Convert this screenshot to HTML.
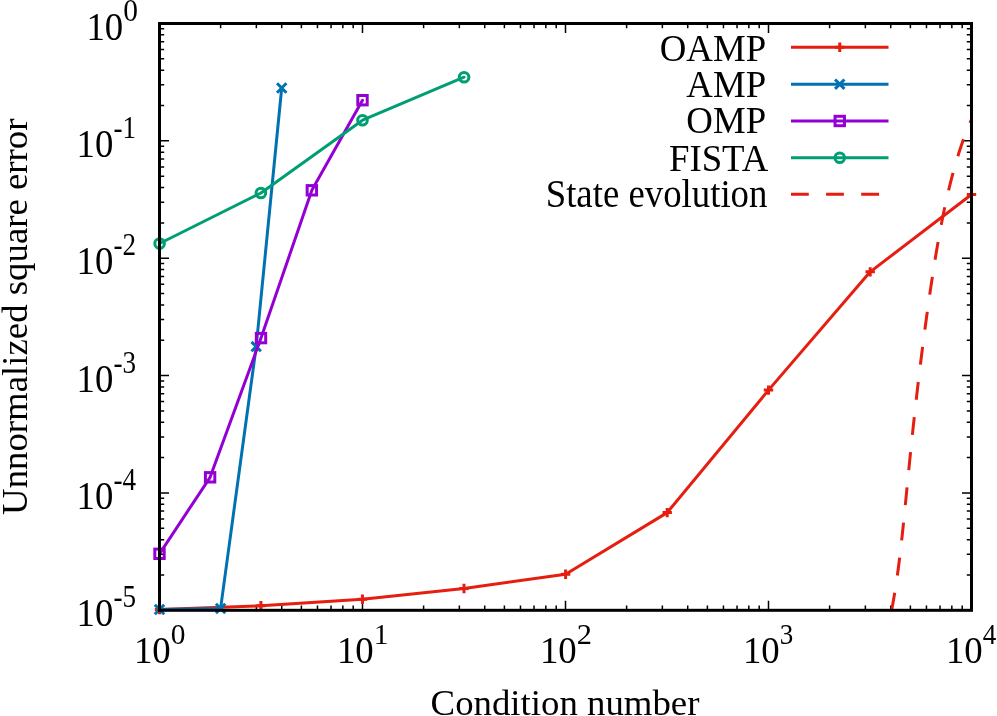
<!DOCTYPE html>
<html><head><meta charset="utf-8"><title>plot</title>
<style>html,body{margin:0;padding:0;background:#fff}svg{display:block;will-change:transform}svg text{opacity:0.9999}</style></head>
<body>
<svg width="997" height="716" viewBox="0 0 997 716">
<rect width="997" height="716" fill="#fff"/>
<path d="M159.50 610.3v-9.5M159.50 23.5v9.5M220.61 610.3v-4.7M220.61 23.5v4.7M256.36 610.3v-4.7M256.36 23.5v4.7M281.72 610.3v-4.7M281.72 23.5v4.7M301.39 610.3v-4.7M301.39 23.5v4.7M317.46 610.3v-4.7M317.46 23.5v4.7M331.05 610.3v-4.7M331.05 23.5v4.7M342.83 610.3v-4.7M342.83 23.5v4.7M353.21 610.3v-4.7M353.21 23.5v4.7M362.50 610.3v-9.5M362.50 23.5v9.5M423.61 610.3v-4.7M423.61 23.5v4.7M459.36 610.3v-4.7M459.36 23.5v4.7M484.72 610.3v-4.7M484.72 23.5v4.7M504.39 610.3v-4.7M504.39 23.5v4.7M520.46 610.3v-4.7M520.46 23.5v4.7M534.05 610.3v-4.7M534.05 23.5v4.7M545.83 610.3v-4.7M545.83 23.5v4.7M556.21 610.3v-4.7M556.21 23.5v4.7M565.50 610.3v-9.5M565.50 23.5v9.5M626.61 610.3v-4.7M626.61 23.5v4.7M662.36 610.3v-4.7M662.36 23.5v4.7M687.72 610.3v-4.7M687.72 23.5v4.7M707.39 610.3v-4.7M707.39 23.5v4.7M723.46 610.3v-4.7M723.46 23.5v4.7M737.05 610.3v-4.7M737.05 23.5v4.7M748.83 610.3v-4.7M748.83 23.5v4.7M759.21 610.3v-4.7M759.21 23.5v4.7M768.50 610.3v-9.5M768.50 23.5v9.5M829.61 610.3v-4.7M829.61 23.5v4.7M865.36 610.3v-4.7M865.36 23.5v4.7M890.72 610.3v-4.7M890.72 23.5v4.7M910.39 610.3v-4.7M910.39 23.5v4.7M926.46 610.3v-4.7M926.46 23.5v4.7M940.05 610.3v-4.7M940.05 23.5v4.7M951.83 610.3v-4.7M951.83 23.5v4.7M962.21 610.3v-4.7M962.21 23.5v4.7M971.50 610.3v-9.5M971.50 23.5v9.5M159.5 610.30h9.5M971.5 610.30h-9.5M159.5 574.97h4.7M971.5 574.97h-4.7M159.5 554.31h4.7M971.5 554.31h-4.7M159.5 539.64h4.7M971.5 539.64h-4.7M159.5 528.27h4.7M971.5 528.27h-4.7M159.5 518.98h4.7M971.5 518.98h-4.7M159.5 511.12h4.7M971.5 511.12h-4.7M159.5 504.31h4.7M971.5 504.31h-4.7M159.5 498.31h4.7M971.5 498.31h-4.7M159.5 492.94h9.5M971.5 492.94h-9.5M159.5 457.61h4.7M971.5 457.61h-4.7M159.5 436.95h4.7M971.5 436.95h-4.7M159.5 422.28h4.7M971.5 422.28h-4.7M159.5 410.91h4.7M971.5 410.91h-4.7M159.5 401.62h4.7M971.5 401.62h-4.7M159.5 393.76h4.7M971.5 393.76h-4.7M159.5 386.95h4.7M971.5 386.95h-4.7M159.5 380.95h4.7M971.5 380.95h-4.7M159.5 375.58h9.5M971.5 375.58h-9.5M159.5 340.25h4.7M971.5 340.25h-4.7M159.5 319.59h4.7M971.5 319.59h-4.7M159.5 304.92h4.7M971.5 304.92h-4.7M159.5 293.55h4.7M971.5 293.55h-4.7M159.5 284.26h4.7M971.5 284.26h-4.7M159.5 276.40h4.7M971.5 276.40h-4.7M159.5 269.59h4.7M971.5 269.59h-4.7M159.5 263.59h4.7M971.5 263.59h-4.7M159.5 258.22h9.5M971.5 258.22h-9.5M159.5 222.89h4.7M971.5 222.89h-4.7M159.5 202.23h4.7M971.5 202.23h-4.7M159.5 187.56h4.7M971.5 187.56h-4.7M159.5 176.19h4.7M971.5 176.19h-4.7M159.5 166.90h4.7M971.5 166.90h-4.7M159.5 159.04h4.7M971.5 159.04h-4.7M159.5 152.23h4.7M971.5 152.23h-4.7M159.5 146.23h4.7M971.5 146.23h-4.7M159.5 140.86h9.5M971.5 140.86h-9.5M159.5 105.53h4.7M971.5 105.53h-4.7M159.5 84.87h4.7M971.5 84.87h-4.7M159.5 70.20h4.7M971.5 70.20h-4.7M159.5 58.83h4.7M971.5 58.83h-4.7M159.5 49.54h4.7M971.5 49.54h-4.7M159.5 41.68h4.7M971.5 41.68h-4.7M159.5 34.87h4.7M971.5 34.87h-4.7M159.5 28.87h4.7M971.5 28.87h-4.7M159.5 23.50h9.5M971.5 23.50h-9.5" stroke="#000" stroke-width="1.5" fill="none"/>
<g font-family="Liberation Serif, serif" font-size="36.8" fill="#000">
<polyline points="159.50,609.50 260.90,605.70 362.46,599.30 464.00,588.50 565.60,574.20 667.20,512.60 768.50,390.10 870.20,271.85 971.50,194.50" stroke="#e51e10" stroke-width="3" fill="none" stroke-linejoin="round" stroke-linecap="round" /><path d="M154.80 609.50h9.4M159.50 604.80v9.4" stroke="#e51e10" stroke-width="3" fill="none"/><path d="M256.20 605.70h9.4M260.90 601.00v9.4" stroke="#e51e10" stroke-width="3" fill="none"/><path d="M357.76 599.30h9.4M362.46 594.60v9.4" stroke="#e51e10" stroke-width="3" fill="none"/><path d="M459.30 588.50h9.4M464.00 583.80v9.4" stroke="#e51e10" stroke-width="3" fill="none"/><path d="M560.90 574.20h9.4M565.60 569.50v9.4" stroke="#e51e10" stroke-width="3" fill="none"/><path d="M662.50 512.60h9.4M667.20 507.90v9.4" stroke="#e51e10" stroke-width="3" fill="none"/><path d="M763.80 390.10h9.4M768.50 385.40v9.4" stroke="#e51e10" stroke-width="3" fill="none"/><path d="M865.50 271.85h9.4M870.20 267.15v9.4" stroke="#e51e10" stroke-width="3" fill="none"/><path d="M966.80 194.50h9.4M971.50 189.80v9.4" stroke="#e51e10" stroke-width="3" fill="none"/>
<text transform="translate(766.10 61.10) scale(1 1.01)" text-anchor="end">OAMP</text><path d="M791.0 47.3H888.5" stroke="#e51e10" stroke-width="3" fill="none"/><path d="M835.05 47.30h9.4M839.75 42.60v9.4" stroke="#e51e10" stroke-width="3" fill="none"/>
<polyline points="159.50,609.50 220.60,608.40 256.20,346.60 281.70,88.00" stroke="#0072b2" stroke-width="3" fill="none" stroke-linejoin="round" stroke-linecap="round" /><path d="M154.80 604.80l9.4 9.4M154.80 614.20l9.4 -9.4" stroke="#0072b2" stroke-width="3" fill="none"/><path d="M215.90 603.70l9.4 9.4M215.90 613.10l9.4 -9.4" stroke="#0072b2" stroke-width="3" fill="none"/><path d="M251.50 341.90l9.4 9.4M251.50 351.30l9.4 -9.4" stroke="#0072b2" stroke-width="3" fill="none"/><path d="M277.00 83.30l9.4 9.4M277.00 92.70l9.4 -9.4" stroke="#0072b2" stroke-width="3" fill="none"/>
<text transform="translate(766.10 96.70) scale(1 1.01)" text-anchor="end">AMP</text><path d="M791.0 84.2H888.5" stroke="#0072b2" stroke-width="3" fill="none"/><path d="M835.05 79.50l9.4 9.4M835.05 88.90l9.4 -9.4" stroke="#0072b2" stroke-width="3" fill="none"/>
<polyline points="159.50,553.80 210.10,477.30 261.00,338.10 311.85,190.30 362.50,100.20" stroke="#9400d3" stroke-width="3" fill="none" stroke-linejoin="round" stroke-linecap="round" /><rect x="154.80" y="549.10" width="9.4" height="9.4" stroke="#9400d3" stroke-width="3" fill="none"/><rect x="205.40" y="472.60" width="9.4" height="9.4" stroke="#9400d3" stroke-width="3" fill="none"/><rect x="256.30" y="333.40" width="9.4" height="9.4" stroke="#9400d3" stroke-width="3" fill="none"/><rect x="307.15" y="185.60" width="9.4" height="9.4" stroke="#9400d3" stroke-width="3" fill="none"/><rect x="357.80" y="95.50" width="9.4" height="9.4" stroke="#9400d3" stroke-width="3" fill="none"/>
<text transform="translate(766.10 133.40) scale(1 1.01)" text-anchor="end">OMP</text><path d="M791.0 121.0H888.5" stroke="#9400d3" stroke-width="3" fill="none"/><rect x="835.05" y="116.30" width="9.4" height="9.4" stroke="#9400d3" stroke-width="3" fill="none"/>
<polyline points="159.60,243.50 260.90,193.00 362.50,120.20 464.05,77.20" stroke="#009e73" stroke-width="3" fill="none" stroke-linejoin="round" stroke-linecap="round" /><circle cx="159.60" cy="243.50" r="4.8" stroke="#009e73" stroke-width="3" fill="none"/><circle cx="260.90" cy="193.00" r="4.8" stroke="#009e73" stroke-width="3" fill="none"/><circle cx="362.50" cy="120.20" r="4.8" stroke="#009e73" stroke-width="3" fill="none"/><circle cx="464.05" cy="77.20" r="4.8" stroke="#009e73" stroke-width="3" fill="none"/>
<text transform="translate(768.20 170.50) scale(1 1.01)" text-anchor="end">FISTA</text><path d="M791.0 157.8H888.5" stroke="#009e73" stroke-width="3" fill="none"/><circle cx="839.75" cy="157.80" r="4.8" stroke="#009e73" stroke-width="3" fill="none"/>
<polyline points="891.59,610.30 892.36,606.30 893.09,602.30 893.80,598.30 894.47,594.30 895.12,590.30 895.75,586.30 896.35,582.30 896.93,578.30 897.50,574.30 898.04,570.30 898.57,566.30 899.08,562.30 899.57,558.30 900.06,554.30 900.53,550.30 900.99,546.30 901.43,542.30 901.87,538.30 902.31,534.30 902.73,530.30 903.15,526.30 903.56,522.30 903.97,518.30 904.38,514.30 904.78,510.30 905.18,506.30 905.57,502.30 905.97,498.30 906.36,494.30 906.76,490.30 907.15,486.30 907.54,482.30 907.94,478.30 908.33,474.30 908.73,470.30 909.13,466.30 909.53,462.30 909.93,458.30 910.34,454.30 910.75,450.30 911.16,446.30 911.58,442.30 911.99,438.30 912.42,434.30 912.84,430.30 913.27,426.30 913.70,422.30 914.14,418.30 914.58,414.30 915.03,410.30 915.47,406.30 915.93,402.30 916.38,398.30 916.85,394.30 917.31,390.30 917.78,386.30 918.25,382.30 918.73,378.30 919.21,374.30 919.70,370.30 920.19,366.30 920.68,362.30 921.18,358.30 921.68,354.30 922.19,350.30 922.70,346.30 923.21,342.30 923.73,338.30 924.26,334.30 924.79,330.30 925.32,326.30 925.86,322.30 926.40,318.30 926.95,314.30 927.51,310.30 928.07,306.30 928.63,302.30 929.20,298.30 929.78,294.30 930.36,290.30 930.95,286.30 931.55,282.30 932.16,278.30 932.77,274.30 933.39,270.30 934.02,266.30 934.66,262.30 935.31,258.30 935.97,254.30 936.65,250.30 937.33,246.30 938.02,242.30 938.73,238.30 939.46,234.30 940.19,230.30 940.95,226.30 941.72,222.30 942.50,218.30 943.31,214.30 944.14,210.30 944.98,206.30 945.85,202.30 946.74,198.30 947.66,194.30 948.60,190.30 949.56,186.30 950.56,182.30 951.59,178.30 952.64,174.30 953.73,170.30 954.86,166.30 956.02,162.30 957.22,158.30 958.46,154.30 959.74,150.30 961.07,146.30 962.44,142.30 963.86,138.30 971.50,119.32" stroke="#e51e10" stroke-width="3" fill="none" stroke-linejoin="round" stroke-linecap="butt" stroke-dasharray="17.92 17.42" stroke-dashoffset="0"/>
<text transform="translate(767.40 206.80) scale(1 1.07)" text-anchor="end">State evolution</text><path d="M791.0 194.3H888.5" stroke="#e51e10" stroke-width="3" stroke-dasharray="17.8 17.3" fill="none"/>
<rect x="159.5" y="23.5" width="812.0" height="586.8" stroke="#000" stroke-width="3" fill="none"/>
<text transform="translate(86.38 40.10) scale(1 1.073)">10</text><text transform="translate(123.18 21.00) scale(1 1.06)" font-size="29.44">0</text>
<text transform="translate(76.58 157.10) scale(1 1.073)">10</text><text transform="translate(113.38 138.00) scale(0.92 1.06)" font-size="29.44">-1</text>
<text transform="translate(76.58 274.10) scale(1 1.073)">10</text><text transform="translate(113.38 255.00) scale(0.92 1.06)" font-size="29.44">-2</text>
<text transform="translate(76.58 392.10) scale(1 1.073)">10</text><text transform="translate(113.38 373.00) scale(0.92 1.06)" font-size="29.44">-3</text>
<text transform="translate(76.58 509.10) scale(1 1.073)">10</text><text transform="translate(113.38 490.00) scale(0.92 1.06)" font-size="29.44">-4</text>
<text transform="translate(76.58 626.10) scale(1 1.073)">10</text><text transform="translate(113.38 607.00) scale(0.92 1.06)" font-size="29.44">-5</text>
<text transform="translate(133.89 663.10) scale(1 1.03)">10</text><text transform="translate(170.69 644.40) scale(1 1.035)" font-size="29.44">0</text>
<text transform="translate(336.89 663.10) scale(1 1.03)">10</text><text transform="translate(373.69 644.40) scale(1 1.035)" font-size="29.44">1</text>
<text transform="translate(539.89 663.10) scale(1 1.03)">10</text><text transform="translate(576.69 644.40) scale(1.03 1.035)" font-size="29.44">2</text>
<text transform="translate(742.89 663.10) scale(1 1.03)">10</text><text transform="translate(779.69 644.40) scale(0.92 1.035)" font-size="29.44">3</text>
<text transform="translate(945.89 663.10) scale(1 1.03)">10</text><text transform="translate(982.69 644.40) scale(0.92 1.035)" font-size="29.44">4</text>
<text transform="translate(565.0 714.8) scale(1 1.0)" text-anchor="middle">Condition number</text>
<text transform="translate(26.8 316.7) rotate(-90)" text-anchor="middle">Unnormalized square error</text>
</g></svg>
</body></html>
